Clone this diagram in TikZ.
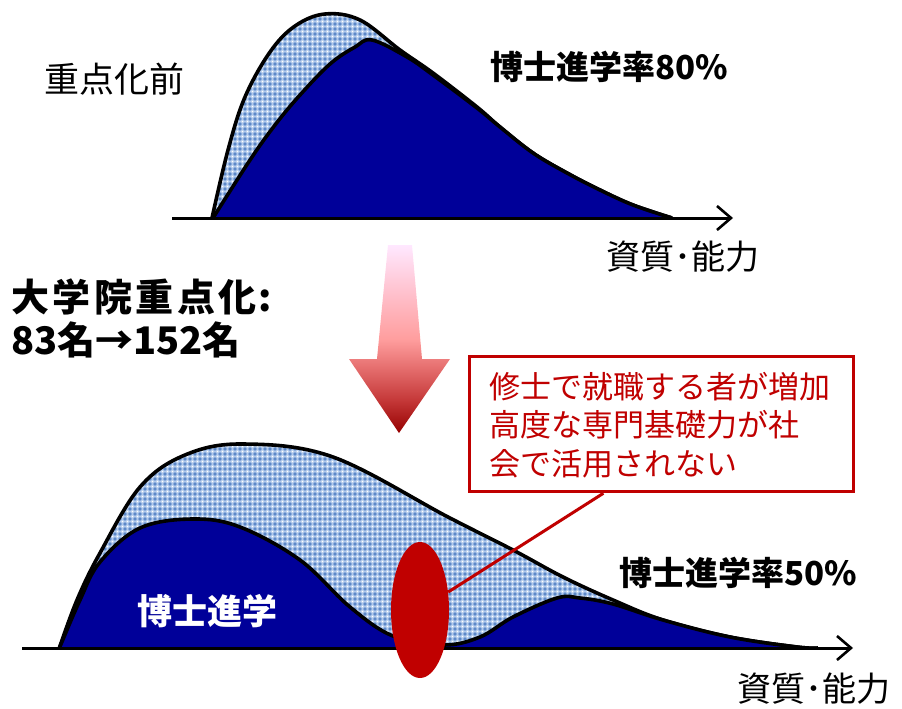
\documentclass[tikz,border=0pt]{standalone}
\usepackage{fontspec}
\usetikzlibrary{arrows.meta,patterns,shapes.geometric,calc}
\newfontfamily\jp{Noto Sans CJK JP}
\definecolor{navy}{RGB}{0,0,153}
\definecolor{hatchbg}{RGB}{178,202,236}
\definecolor{hatchfg}{RGB}{84,130,198}
\definecolor{callred}{RGB}{192,0,0}
\definecolor{arrtop}{RGB}{255,232,255}
\definecolor{arrhi}{RGB}{255,186,196}
\definecolor{arrmid}{RGB}{255,158,158}
\definecolor{arrlo}{RGB}{228,108,108}
\definecolor{arrlo2}{RGB}{198,58,58}
\definecolor{arrbot}{RGB}{150,0,0}
\pgfdeclareverticalshading{arrshade}{100bp}{color(0bp)=(arrbot); color(25bp)=(arrbot); color(34bp)=(arrlo2); color(42bp)=(arrlo); color(50bp)=(arrmid); color(60bp)=(arrhi); color(75bp)=(arrtop); color(100bp)=(arrtop)}
\pgfdeclarepatternformonly{bluecross}{\pgfpoint{-2pt}{-2pt}}{\pgfpoint{2pt}{2pt}}{\pgfpoint{5pt}{5pt}}{%
  \pgfpathrectangle{\pgfpoint{-1.6pt}{-0.55pt}}{\pgfpoint{3.2pt}{1.1pt}}%
  \pgfpathrectangle{\pgfpoint{-0.55pt}{-1.6pt}}{\pgfpoint{1.1pt}{3.2pt}}%
  \pgfusepath{fill}}
\pgfdeclarepatternformonly{whitedot}{\pgfpoint{1.2pt}{1.2pt}}{\pgfpoint{3.8pt}{3.8pt}}{\pgfpoint{5pt}{5pt}}{%
  \pgfpathcircle{\pgfpoint{2.5pt}{2.5pt}}{0.85pt}%
  \pgfusepath{fill}}
\tikzset{
  axisline/.style={line width=3pt,-{Straight Barb[length=14pt,width=24pt,line width=2.6pt]}},
  outline/.style={draw=black,line width=3.6pt,line join=round},
  hatched/.style={fill=hatchbg,postaction={pattern=bluecross,pattern color=hatchfg},postaction={pattern=whitedot,pattern color=white}},
  lbl/.style={inner sep=0pt,font=\jp\fontsize{35}{40}\selectfont},
  blbl/.style={inner sep=0pt,font=\jp\bfseries\fontsize{33}{38}\selectfont},
}
\begin{document}
\begin{tikzpicture}[x=1pt,y=-1pt]
\useasboundingbox (0,0) rectangle (902,709);
% ---------- top distribution ----------
\path[hatched] plot[smooth,tension=0.6] coordinates {(212,218) (228,150) (245,97) (270,52) (295,26) (325,14) (360,20) (400,50) (433,73) (477,107) (500,127) (533,153) (567,173) (600,190) (633,205) (672,218)} -- cycle;
\draw[outline] plot[smooth,tension=0.6] coordinates {(212,218) (228,150) (245,97) (270,52) (295,26) (325,14) (360,20) (400,50) (433,73) (477,107) (500,127) (533,153) (567,173) (600,190) (633,205) (672,218)};
\fill[navy] plot[smooth,tension=0.6] coordinates {(213,218) (250,160) (275,125) (300,95) (330,64) (355,47) (372,40) (407,57) (433,75) (477,108) (500,127) (533,153) (567,173) (600,190) (633,205) (672,218)} -- cycle;
\draw[outline] plot[smooth,tension=0.6] coordinates {(213,218) (250,160) (275,125) (300,95) (330,64) (355,47) (372,40) (407,57) (433,75) (477,108) (500,127) (533,153) (567,173) (600,190) (633,205) (672,218)};
\coordinate (ta) at (172,218);
\coordinate (tb) at (733,218);
\draw[axisline] (ta) -- (tb);
% ---------- bottom distribution ----------
\path[hatched] plot[smooth,tension=0.6] coordinates {(59,649) (77,600) (100,553) (140,487) (185,455) (243,444) (333,457) (448,517) (513,550) (563,577) (613,600) (663,620) (730,637) (797,647) (818,648)} -- cycle;
\draw[outline] plot[smooth,tension=0.6] coordinates {(59,649) (77,600) (100,553) (140,487) (185,455) (243,444) (333,457) (448,517) (513,550) (563,577) (613,600) (663,620) (730,637) (797,647) (818,648)};
\fill[navy] plot[smooth,tension=0.6] coordinates {(59,649) (80,600) (100,562) (140,528) (193,519) (240,527) (300,560) (350,607) (393,636) (443,645) (480,637) (513,617) (557,598) (580,598) (613,604) (663,620) (730,637) (797,647) (818,648)} -- cycle;
\draw[outline] plot[smooth,tension=0.6] coordinates {(59,649) (80,600) (100,562) (140,528) (193,519) (240,527) (300,560) (350,607) (393,636) (443,645) (480,637) (513,617) (557,598) (580,598) (613,604) (663,620) (730,637) (797,647) (818,648)};
\coordinate (ba) at (22,648);
\coordinate (bb) at (853,648);
\draw[axisline] (ba) -- (bb);
% ---------- gradient arrow ----------
\shade[shading=arrshade]
  (388,245) -- (412,245) -- (422,359) -- (450,359) -- (399,433) -- (349,359) -- (377,359) -- cycle;
% ---------- labels ----------
\node[lbl] (before) at (114,79) {重点化前};
\node[blbl] (r80) at (609,67) {博士進学率80\%};
\node[lbl,font=\jp\fontsize{34}{38}\selectfont] (ax1) at (683,257) {資質･能力};
\node[blbl,anchor=west,align=left,font=\jp\bfseries\fontsize{38}{43}\selectfont] (grad) at (11,318) {大\kern3.5pt 学\kern3.5pt 院\kern3.5pt 重\kern3.5pt 点\kern3.5pt 化\kern2pt :\\83名→152名};
\node[blbl,text=white,font=\jp\bfseries\fontsize{35}{40}\selectfont] (phd) at (207,611) {博士進学};
\node[blbl] (r50) at (738,573) {博士進学率50\%};
\node[lbl,font=\jp\fontsize{34}{38}\selectfont] (ax2) at (814,689) {資質･能力};
% ---------- callout ----------
\node[fill=callred,ellipse,minimum width=58pt,minimum height=136pt,inner sep=0pt] (ell) at (420,610) {};
\node[draw=callred,line width=3.5pt,fill=white,minimum width=384pt,minimum height=135pt,inner sep=0pt] (box) at (661.5,424) {};
\node[inner sep=0pt,anchor=north west,align=left,text=callred,font=\jp\fontsize{31}{38.5}\selectfont] (note) at (489,372) {修士で就職する者が増加\\高度な専門基礎力が社\\会で活用されない};
\draw[callred,line width=3pt] ($(box.south west)!0.35!(box.south east)$) -- (ell);
\end{tikzpicture}
\end{document}
